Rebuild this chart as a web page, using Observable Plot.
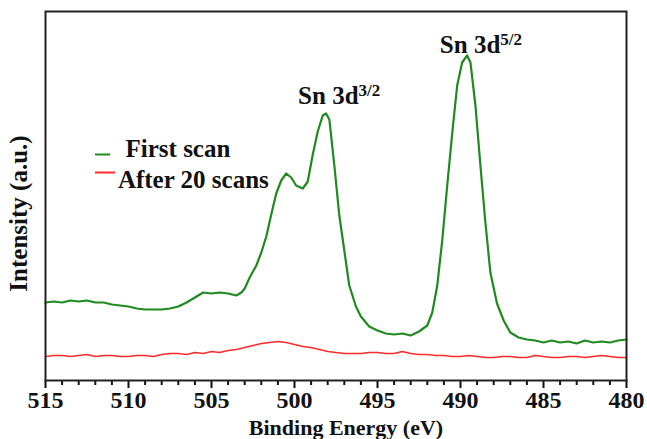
<!DOCTYPE html>
<html>
<head>
<meta charset="utf-8">
<script src="https://cdn.jsdelivr.net/npm/d3@7"></script>
<script src="https://cdn.jsdelivr.net/npm/@observablehq/plot@0.6"></script>
<style>
  html, body { margin: 0; padding: 0; background: #fff; }
  #chart svg { display: block; }
</style>
</head>
<body>
<div id="chart"></div>
<script>
// ---- Data ----
const greenEnergy = [515,514.5,514,513.5,513,512.5,512,511.5,511,510.5,510,509.5,509,508.5,508,507.5,507,506.5,506,505.5,505,504.5,504,503.5,503.2,503,502.7,502.3,502,501.7,501.4,501.1,500.8,500.5,500.2,499.9,499.5,499.2,498.9,498.6,498.3,498.1,497.9,497.6,497.3,497,496.7,496.3,496,495.5,495,494.5,494,493.5,493,492.5,492,491.7,491.4,491.1,490.8,490.5,490.2,489.9,489.6,489.4,489.1,488.8,488.5,488.2,487.8,487.4,487,486.5,486,485.5,485,484.5,484,483.5,483,482.5,482,481.5,481,480.5,480];
const greenIntensity = [78,79,78,80,79,80,78,78,76,75,74,72,71,71,71,72,74,78,83,88,87,88,87,85,88,92,103,115,128,144,166,187,200,207,203,195,192,199,226,249,265,267,261,215,165,130,95,74,64,54,50,47,46,47,45,49,55,68,95,140,195,247,295,318,325,318,275,215,158,108,77,60,48,43,41,40,38,40,38,39,37,40,38,39,38,40,41];

const redEnergy = [515,514.5,514,513.5,513,512.5,512,511.5,511,510.5,510,509.5,509,508.5,508,507.5,507,506.5,506,505.5,505,504.5,504,503.5,503,502.5,502,501.5,501,500.5,500,499.5,499,498.5,498,497.5,497,496.5,496,495.5,495,494.5,494,493.5,493,492.5,492,491.5,491,490.5,490,489.5,489,488.5,488,487.5,487,486.5,486,485.5,485,484.5,484,483.5,483,482.5,482,481.5,481,480.5,480];
const redIntensity = [24,25,25,24,25,26,24,25,25,24,24,25,25,24,26,27,27,26,28,27,29,28,30,31,33,35,37,38,39,38,36,34,33,31,29,28,27,27,27,28,28,27,27,29,27,26,26,25,25,24,24,25,24,23,23,24,24,23,23,25,24,23,23,24,24,23,24,25,24,23,23];

const seriesNames = ["First scan", "After 20 scans"];
const seriesColors = ["#1f8a1f", "#ff2a2a"];

const majorTicks = [515, 510, 505, 500, 495, 490, 485, 480];
const minorTicks = d3.range(480, 516, 1).filter(v => v % 5 !== 0);

const xLabel = "Binding Energy (eV)";
const yLabel = "Intensity (a.u.)";
const yLabelCenter = 167; // intensity at which the rotated y title is centred

// peak annotations: [energy at junction of main text and superscript, baseline intensity]
const peakMain = ["Sn 3d", "Sn 3d"];
const peakSup = ["3/2", "5/2"];
const peakEnergy = [496.14, 487.6];
const peakLabelY = [277, 328];

// legend placement (data units)
const legendLineX1 = [511.99, 511.99];
const legendLineX2 = [511.08, 510.78];
const legendLineY = [226, 208];
const legendTextX = [510.18, 510.64];
const legendTextY = [224, 193];

// ---- Build tables ----
const green = greenEnergy.map((e, i) => ({e, v: greenIntensity[i]}));
const red = redEnergy.map((e, i) => ({e, v: redIntensity[i]}));
const peaks = peakMain.map((t, i) => ({t, s: peakSup[i], e: peakEnergy[i], y: peakLabelY[i]}));
const legend = seriesNames.map((n, i) => ({
  n, c: seriesColors[i], x1: legendLineX1[i], x2: legendLineX2[i], ly: legendLineY[i], tx: legendTextX[i], ty: legendTextY[i]
}));

const font = "'Liberation Serif', 'Times New Roman', serif";

const chart = Plot.plot({
  width: 647,
  height: 439,
  marginLeft: 45,
  marginRight: 21,
  marginTop: 11,
  marginBottom: 59,
  style: {fontFamily: font, fontWeight: "bold", color: "#111", background: "#fff"},
  x: {domain: [515, 480], label: null},
  y: {domain: [0, 369], axis: null},
  marks: [
    Plot.axisX({ticks: minorTicks, tickSize: 5, text: null, strokeWidth: 2, label: null}),
    Plot.axisX({ticks: majorTicks, tickSize: 8, strokeWidth: 2, fontSize: 24, tickPadding: 2, label: null, tickFormat: d => String(d)}),
    Plot.text([xLabel], {frameAnchor: "bottom", dx: 10, dy: 54, fontSize: 22, fontWeight: "bold", lineAnchor: "bottom", fill: "#111"}),
    Plot.text([yLabel], {y: () => yLabelCenter, frameAnchor: "left", textAnchor: "middle", rotate: -90, dx: -27, fontSize: 25, fontWeight: "bold", fill: "#111"}),
    Plot.line(red, {x: "e", y: "v", stroke: seriesColors[1], strokeWidth: 1.6}),
    Plot.line(green, {x: "e", y: "v", stroke: seriesColors[0], strokeWidth: 2.2}),
    Plot.ruleY(legend, {y: "ly", x1: "x1", x2: "x2", stroke: "c", strokeWidth: 2}),
    Plot.text(legend, {x: "tx", y: "ty", text: "n", textAnchor: "start", lineAnchor: "bottom", fontSize: 25, fontWeight: "bold", fill: "#111"}),
    Plot.text(peaks, {x: "e", y: "y", text: "t", textAnchor: "end", lineAnchor: "bottom", fontSize: 25, fontWeight: "bold", fill: "#111"}),
    Plot.text(peaks, {x: "e", y: "y", text: "s", textAnchor: "start", lineAnchor: "bottom", dy: -8, fontSize: 17, fontWeight: "bold", fill: "#111"}),
    Plot.frame({stroke: "#222", strokeWidth: 2})
  ]
});
document.getElementById("chart").appendChild(chart);
</script>
</body>
</html>
